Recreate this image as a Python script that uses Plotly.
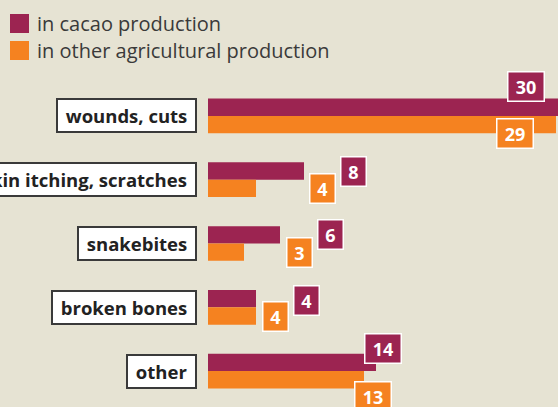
import plotly.graph_objects as go

categories = ["wounds, cuts", "skin itching, scratches", "snakebites", "broken bones", "other"]
cacao = [30, 8, 6, 4, 14]
other_agri = [29, 4, 3, 4, 13]
series_names = ["in cacao production", "in other agricultural production"]

C_MAG = "#9c2451"
C_ORG = "#f58220"
BG = "#e6e3d3"

W, H = 558, 407
ML, MR, MT, MB = 208, 0, 84, 4
PX_PER_UNIT = 12.0
XMAX = (W - ML - MR) / PX_PER_UNIT

# label placement tweaks (pixels) relative to bar end / category centre
mag_dx = [-61, 36, 37, 37, -12]
mag_dy = [29, 8, 9, 7, 23]
org_dx = [-60, 53, 42, 6, -10]
org_dy = [-18, -9, -9, -9, -25]

fig = go.Figure()
fig.add_trace(go.Bar(y=categories, x=cacao, orientation="h", name=series_names[0],
                     marker=dict(color=C_MAG, line=dict(width=0))))
fig.add_trace(go.Bar(y=categories, x=other_agri, orientation="h", name=series_names[1],
                     marker=dict(color=C_ORG, line=dict(width=0))))

NB = "\u00a0"
ann = []
for i, c in enumerate(categories):
    ann.append(dict(x=0, xref="paper", y=c, yref="y", xanchor="right", yanchor="middle",
                    xshift=-11, text="<b>%s%s%s</b>" % (NB, c, NB), showarrow=False,
                    font=dict(family="Open Sans", size=18.5, color="#222222"),
                    bgcolor="white", bordercolor="#3a3a3a", borderwidth=2, borderpad=3))
    for vals, dxs, dys, col in ((cacao, mag_dx, mag_dy, C_MAG), (other_agri, org_dx, org_dy, C_ORG)):
        v = vals[i]
        wbox = 24 if v < 10 else 35
        ann.append(dict(x=v / XMAX, xref="paper", y=c, yref="y", xanchor="left", yanchor="middle",
                        xshift=dxs[i], yshift=dys[i], text="<b>%d</b>" % v, showarrow=False,
                        font=dict(family="Open Sans", size=18, color="white"),
                        bgcolor=col, bordercolor="white", borderwidth=1.5, borderpad=0,
                        width=wbox, height=28, align="center", valign="middle"))

# legend drawn manually
shapes = []
for k, (name, col) in enumerate(zip(series_names, [C_MAG, C_ORG])):
    y0 = 14 + 27 * k
    shapes.append(dict(type="rect", xref="paper", yref="paper",
                       x0=(10 - ML) / (W - ML - MR), x1=(29 - ML) / (W - ML - MR),
                       y0=1 + (MT - y0) / (H - MT - MB), y1=1 + (MT - y0 - 19) / (H - MT - MB),
                       fillcolor=col, line=dict(width=0)))
    ann.append(dict(x=(35 - ML) / (W - ML - MR), xref="paper", xanchor="left",
                    y=1 + (MT - y0 - 9.5) / (H - MT - MB), yref="paper", yanchor="middle",
                    text=name, showarrow=False,
                    font=dict(family="Open Sans", size=20, color="#3a3a3a")))

fig.update_layout(
    width=W, height=H, margin=dict(l=ML, r=MR, t=MT, b=MB, autoexpand=False),
    paper_bgcolor=BG, plot_bgcolor=BG,
    barmode="group", bargap=0.456, bargroupgap=0,
    showlegend=False,
    xaxis=dict(range=[0, XMAX], visible=False, fixedrange=True),
    yaxis=dict(range=[len(categories) - 0.5, -0.5], visible=False, fixedrange=True),
    annotations=ann, shapes=shapes,
)

fig.write_html("out.html", config={"displayModeBar": False},
               post_script="document.body.style.margin='0';document.body.style.overflow='hidden';")
